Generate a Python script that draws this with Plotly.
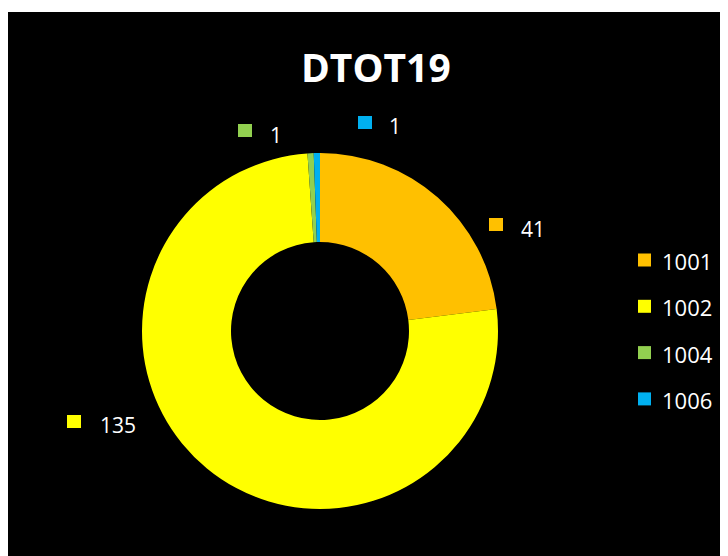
import plotly.graph_objects as go

W, H = 728, 556
OFF = 8  # page body margin in the browser

# ---- data ----
categories = ["1001", "1002", "1004", "1006"]
values = [41, 135, 1, 1]
colors = ["#FFC000", "#FFFF00", "#92D050", "#00B0F0"]
title_text = "DTOT19"

# ---- layout constants (screen pixels) ----
BG_LEFT, BG_TOP = 8, 12
CX, CY, R = 320, 331, 178
HOLE = 0.5
FONT = "Open Sans"
# data label anchors: (square left x, square top y, text left x, text center y)
label_pos = [(489, 218, 519, 229), (67, 415, 98, 425), (238, 124, 268, 135), (358, 116, 387, 126)]
LABEL_SQ_W, LABEL_SQ_H = 14, 13
LEG_SQ_X, LEG_TXT_X = 638, 660
LEG_Y0, LEG_DY = 260, 46.3
LEG_SQ = 13


def px(x):
    return (x - OFF) / W


def py(y):
    return 1 - (y - OFF) / H


fig = go.Figure()
fig.add_trace(go.Pie(
    labels=categories,
    values=values,
    marker=dict(colors=colors, line=dict(width=0)),
    hole=HOLE,
    sort=False,
    direction="clockwise",
    rotation=0,
    textinfo="none",
    hoverinfo="label+value",
    showlegend=False,
    domain=dict(x=[px(CX - R), px(CX + R)], y=[py(CY + R), py(CY - R)]),
))

shapes = [dict(type="rect", xref="paper", yref="paper", x0=0, x1=1, y0=0, y1=py(BG_TOP),
               fillcolor="black", line=dict(width=0), layer="below")]
annotations = []

# data labels
for (sx, sy, tx, ty), v, c in zip(label_pos, values, colors):
    shapes.append(dict(type="rect", xref="paper", yref="paper",
                       x0=px(sx), x1=px(sx + LABEL_SQ_W), y0=py(sy + LABEL_SQ_H), y1=py(sy),
                       fillcolor=c, line=dict(width=0)))
    annotations.append(dict(text=str(v), xref="paper", yref="paper", x=px(tx), y=py(ty),
                            xanchor="left", yanchor="middle", showarrow=False,
                            font=dict(family=FONT, size=21, color="white")))

# legend
for i, (cat, c) in enumerate(zip(categories, colors)):
    yc = LEG_Y0 + i * LEG_DY
    shapes.append(dict(type="rect", xref="paper", yref="paper",
                       x0=px(LEG_SQ_X), x1=px(LEG_SQ_X + LEG_SQ), y0=py(yc + LEG_SQ / 2), y1=py(yc - LEG_SQ / 2),
                       fillcolor=c, line=dict(width=0)))
    annotations.append(dict(text=cat, xref="paper", yref="paper", x=px(LEG_TXT_X), y=py(yc + 1),
                            xanchor="left", yanchor="middle", showarrow=False,
                            font=dict(family=FONT, size=22, color="white")))

# title
annotations.append(dict(text="<b>" + title_text + "</b>", xref="paper", yref="paper",
                        x=px(375.5), y=py(66), xanchor="center", yanchor="middle", showarrow=False,
                        font=dict(family=FONT, size=39, color="white")))

fig.update_layout(
    width=W, height=H,
    margin=dict(l=0, r=0, t=0, b=0),
    paper_bgcolor="white",
    plot_bgcolor="black",
    shapes=shapes,
    annotations=annotations,
    showlegend=False,
)

fig.write_html("out.html")
